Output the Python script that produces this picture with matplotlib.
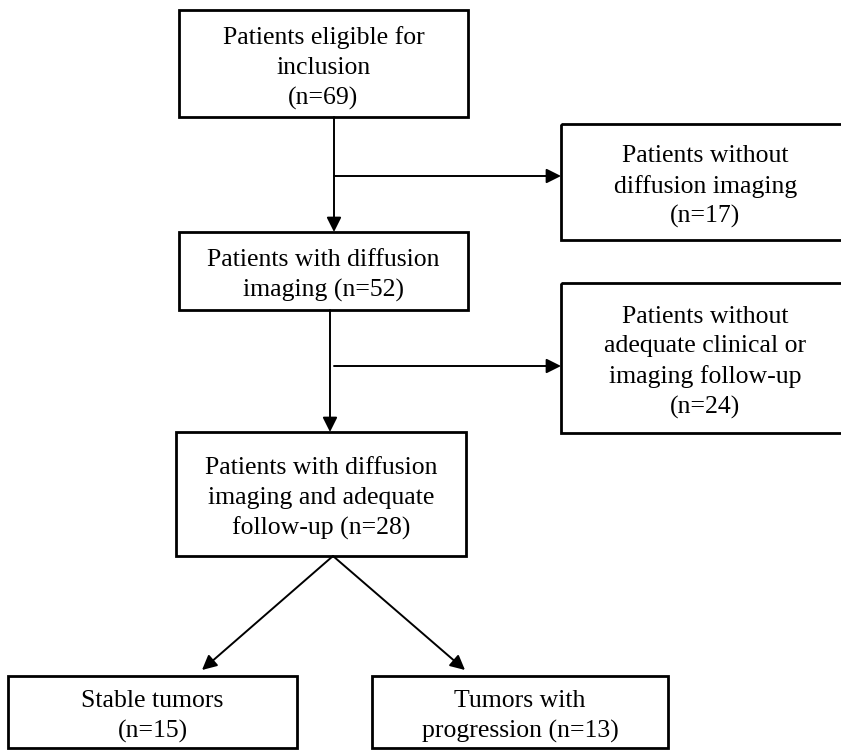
import matplotlib.pyplot as plt
from matplotlib.patches import Rectangle

plt.rcParams['font.family'] = ['Liberation Serif', 'DejaVu Serif']

# box texts
labels = [
    "Patients eligible for\ninclusion\n(n=69)",
    "Patients without\ndiffusion imaging\n(n=17)",
    "Patients with diffusion\nimaging (n=52)",
    "Patients without\nadequate clinical or\nimaging follow-up\n(n=24)",
    "Patients with diffusion\nimaging and adequate\nfollow-up (n=28)",
    "Stable tumors\n(n=15)",
    "Tumors with\nprogression (n=13)",
]
# box extents in pixels: x0, y0, x1, y1 (right boxes run past the edge)
boxes = [
    (179, 10, 468, 117),
    (561, 124, 850, 240),
    (179, 232, 468, 310),
    (561, 283, 850, 433),
    (176, 432, 466, 556),
    (8, 676, 297, 748),
    (372, 676, 668, 748),
]

fig = plt.figure(figsize=(8.41, 7.5), dpi=100)
ax = fig.add_axes([0, 0, 1, 1])
ax.set_xlim(0, 841)
ax.set_ylim(750, 0)
ax.axis('off')

for (x0, y0, x1, y1), lab in zip(boxes, labels):
    ax.add_patch(Rectangle((x0, y0), x1 - x0, y1 - y0, fill=False,
                           edgecolor='black', linewidth=2))
    ax.text((x0 + x1) / 2, (y0 + y1) / 2 + 4.5, lab, ha='center',
            va='center', fontsize=18.5, linespacing=1.44)

arrow = dict(arrowstyle='-|>', color='black', lw=1.4, mutation_scale=22,
             shrinkA=0, shrinkB=0)

def arr(x0, y0, x1, y1):
    ax.annotate('', xy=(x1, y1), xytext=(x0, y0), arrowprops=arrow)

arr(334, 117, 334, 232)
arr(334, 176, 561, 176)
arr(330, 310, 330, 432)
arr(334, 366, 561, 366)
arr(333, 556, 202, 670)
arr(333, 556, 465, 670)

fig.savefig('out.png', dpi=100)
